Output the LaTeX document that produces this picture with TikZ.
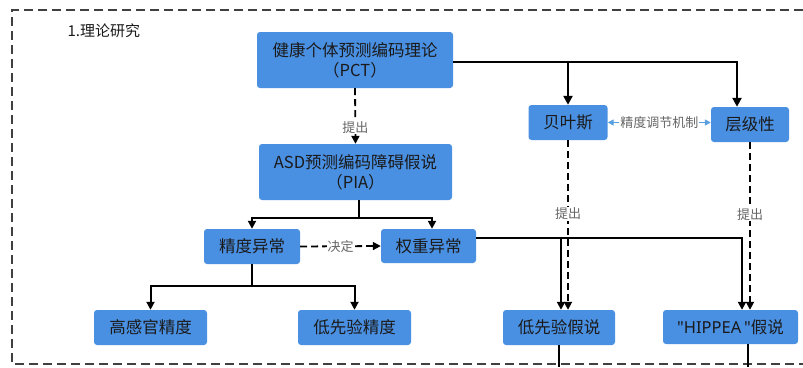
\documentclass[tikz,border=0pt]{standalone}
\usepackage{fontspec}
\setmainfont[Ligatures=NoCommon]{Noto Sans CJK SC}
\newfontfamily\latinfont{Noto Sans}
\usetikzlibrary{arrows.meta,calc}
\definecolor{boxblue}{HTML}{4A90E2}
\definecolor{txt}{HTML}{1A1A1A}
\definecolor{lbl}{HTML}{666666}
\definecolor{linkblue}{HTML}{5AA0E0}
\begin{document}
\begin{tikzpicture}[x=1pt,y=-1pt,
  box/.style={fill=boxblue,rounded corners=3pt,text=txt,font=\fontsize{16.5}{20}\selectfont,inner sep=0pt,align=center},
  conn/.style={draw=black,line width=2pt,-{Triangle[length=8pt,width=8pt]}},
  heavy/.style={draw=black,line width=2.6pt,-{Triangle[length=9pt,width=9pt]}},
  dconn/.style={draw=black,line width=1.8pt,dash pattern=on 7pt off 4pt,-{Triangle[length=8pt,width=8pt]}},
  lab/.style={fill=white,text=lbl,font=\fontsize{13}{15}\selectfont,inner sep=1pt},
  frame/.style={draw=black!75,line width=1.4pt,dash pattern=on 9pt off 5pt}
]
\useasboundingbox (0,0) rectangle (803,367);
\draw[frame] (803,10) -- (12,10) -- (12,364) -- (803,364);
\node[anchor=west,text=txt,font=\fontsize{15}{18}\selectfont] (title) at (64,31) {1.理论研究};

\node[box,minimum width=196pt,minimum height=56pt] (pct) at (355,60) {健康个体预测编码理论\\（PCT）};
\node[box,minimum width=193pt,minimum height=56pt] (pia) at (355.5,172) {ASD预测编码障碍假说\\（PIA）};
\node[box,minimum width=79pt,minimum height=35pt] (bayes) at (568,122.5) {贝叶斯};
\node[box,minimum width=78pt,minimum height=35pt] (ceng) at (750,124.5) {层级性};
\node[box,minimum width=96pt,minimum height=35pt] (jdyc) at (252,246.5) {精度异常};
\node[box,minimum width=95pt,minimum height=34pt] (qzyc) at (428.5,246) {权重异常};
\node[box,minimum width=113pt,minimum height=35pt] (gg) at (150.5,327.5) {高感官精度};
\node[box,minimum width=113pt,minimum height=35pt] (dxyjd) at (354.5,327.5) {低先验精度};
\node[box,minimum width=112pt,minimum height=35pt] (dxyjs) at (559,327.5) {低先验假说};
\node[box,minimum width=135pt,minimum height=34pt] (hip) at (730.5,327) {{\latinfont\char"22 HIPPEA\,\char"22}假说};

\coordinate (pctout) at ($(pct.east)+(0,2)$);
\draw[heavy] (pctout) -| (bayes.north);
\draw[heavy] (pctout) -| ($(ceng.north)+(-13,0)$);
\draw[dconn] (pct.south) -- node[lab,pos=0.7] {提出} (pia.north);
\draw[draw=linkblue,line width=1.4pt,{Triangle[length=6pt,width=6pt]}-{Triangle[length=6pt,width=6pt]}] (bayes.east) -- node[lab] {精度调节机制} (bayes.east -| ceng.west);

\coordinate (piaout) at ($(pia.south)+(3.5,0)$);
\draw[conn] (piaout) -- ++(0,18) -| (jdyc.north);
\draw[conn] (piaout) -- ++(0,18) -| ($(qzyc.north)+(3.5,0)$);
\draw[dconn] (jdyc.east) -- node[lab] {决定} (qzyc.west);

\draw[conn] (jdyc.south) -- ++(0,22) -| (gg.north);
\draw[conn] (jdyc.south) -- ++(0,22) -| (dxyjd.north);

\coordinate (qzout) at ($(qzyc.east)+(0,-8.5)$);
\draw[conn] (qzout) -| ($(dxyjs.north)+(2,0)$);
\draw[conn] (qzout) -| ($(hip.north)+(11.5,0)$);
\draw[dconn] (bayes.south) -- node[lab,pos=0.435] {提出} (bayes.south |- dxyjs.north);
\draw[dconn] (ceng.south) -- node[lab,pos=0.43] {提出} (ceng.south |- hip.north);

\coordinate (out1) at (559,367);
\coordinate (out2) at (748,367);
\draw[line width=2pt] (dxyjs.south) -- (out1);
\draw[line width=2pt] ($(hip.south)+(17.5,0)$) -- (out2);
\end{tikzpicture}
\end{document}
